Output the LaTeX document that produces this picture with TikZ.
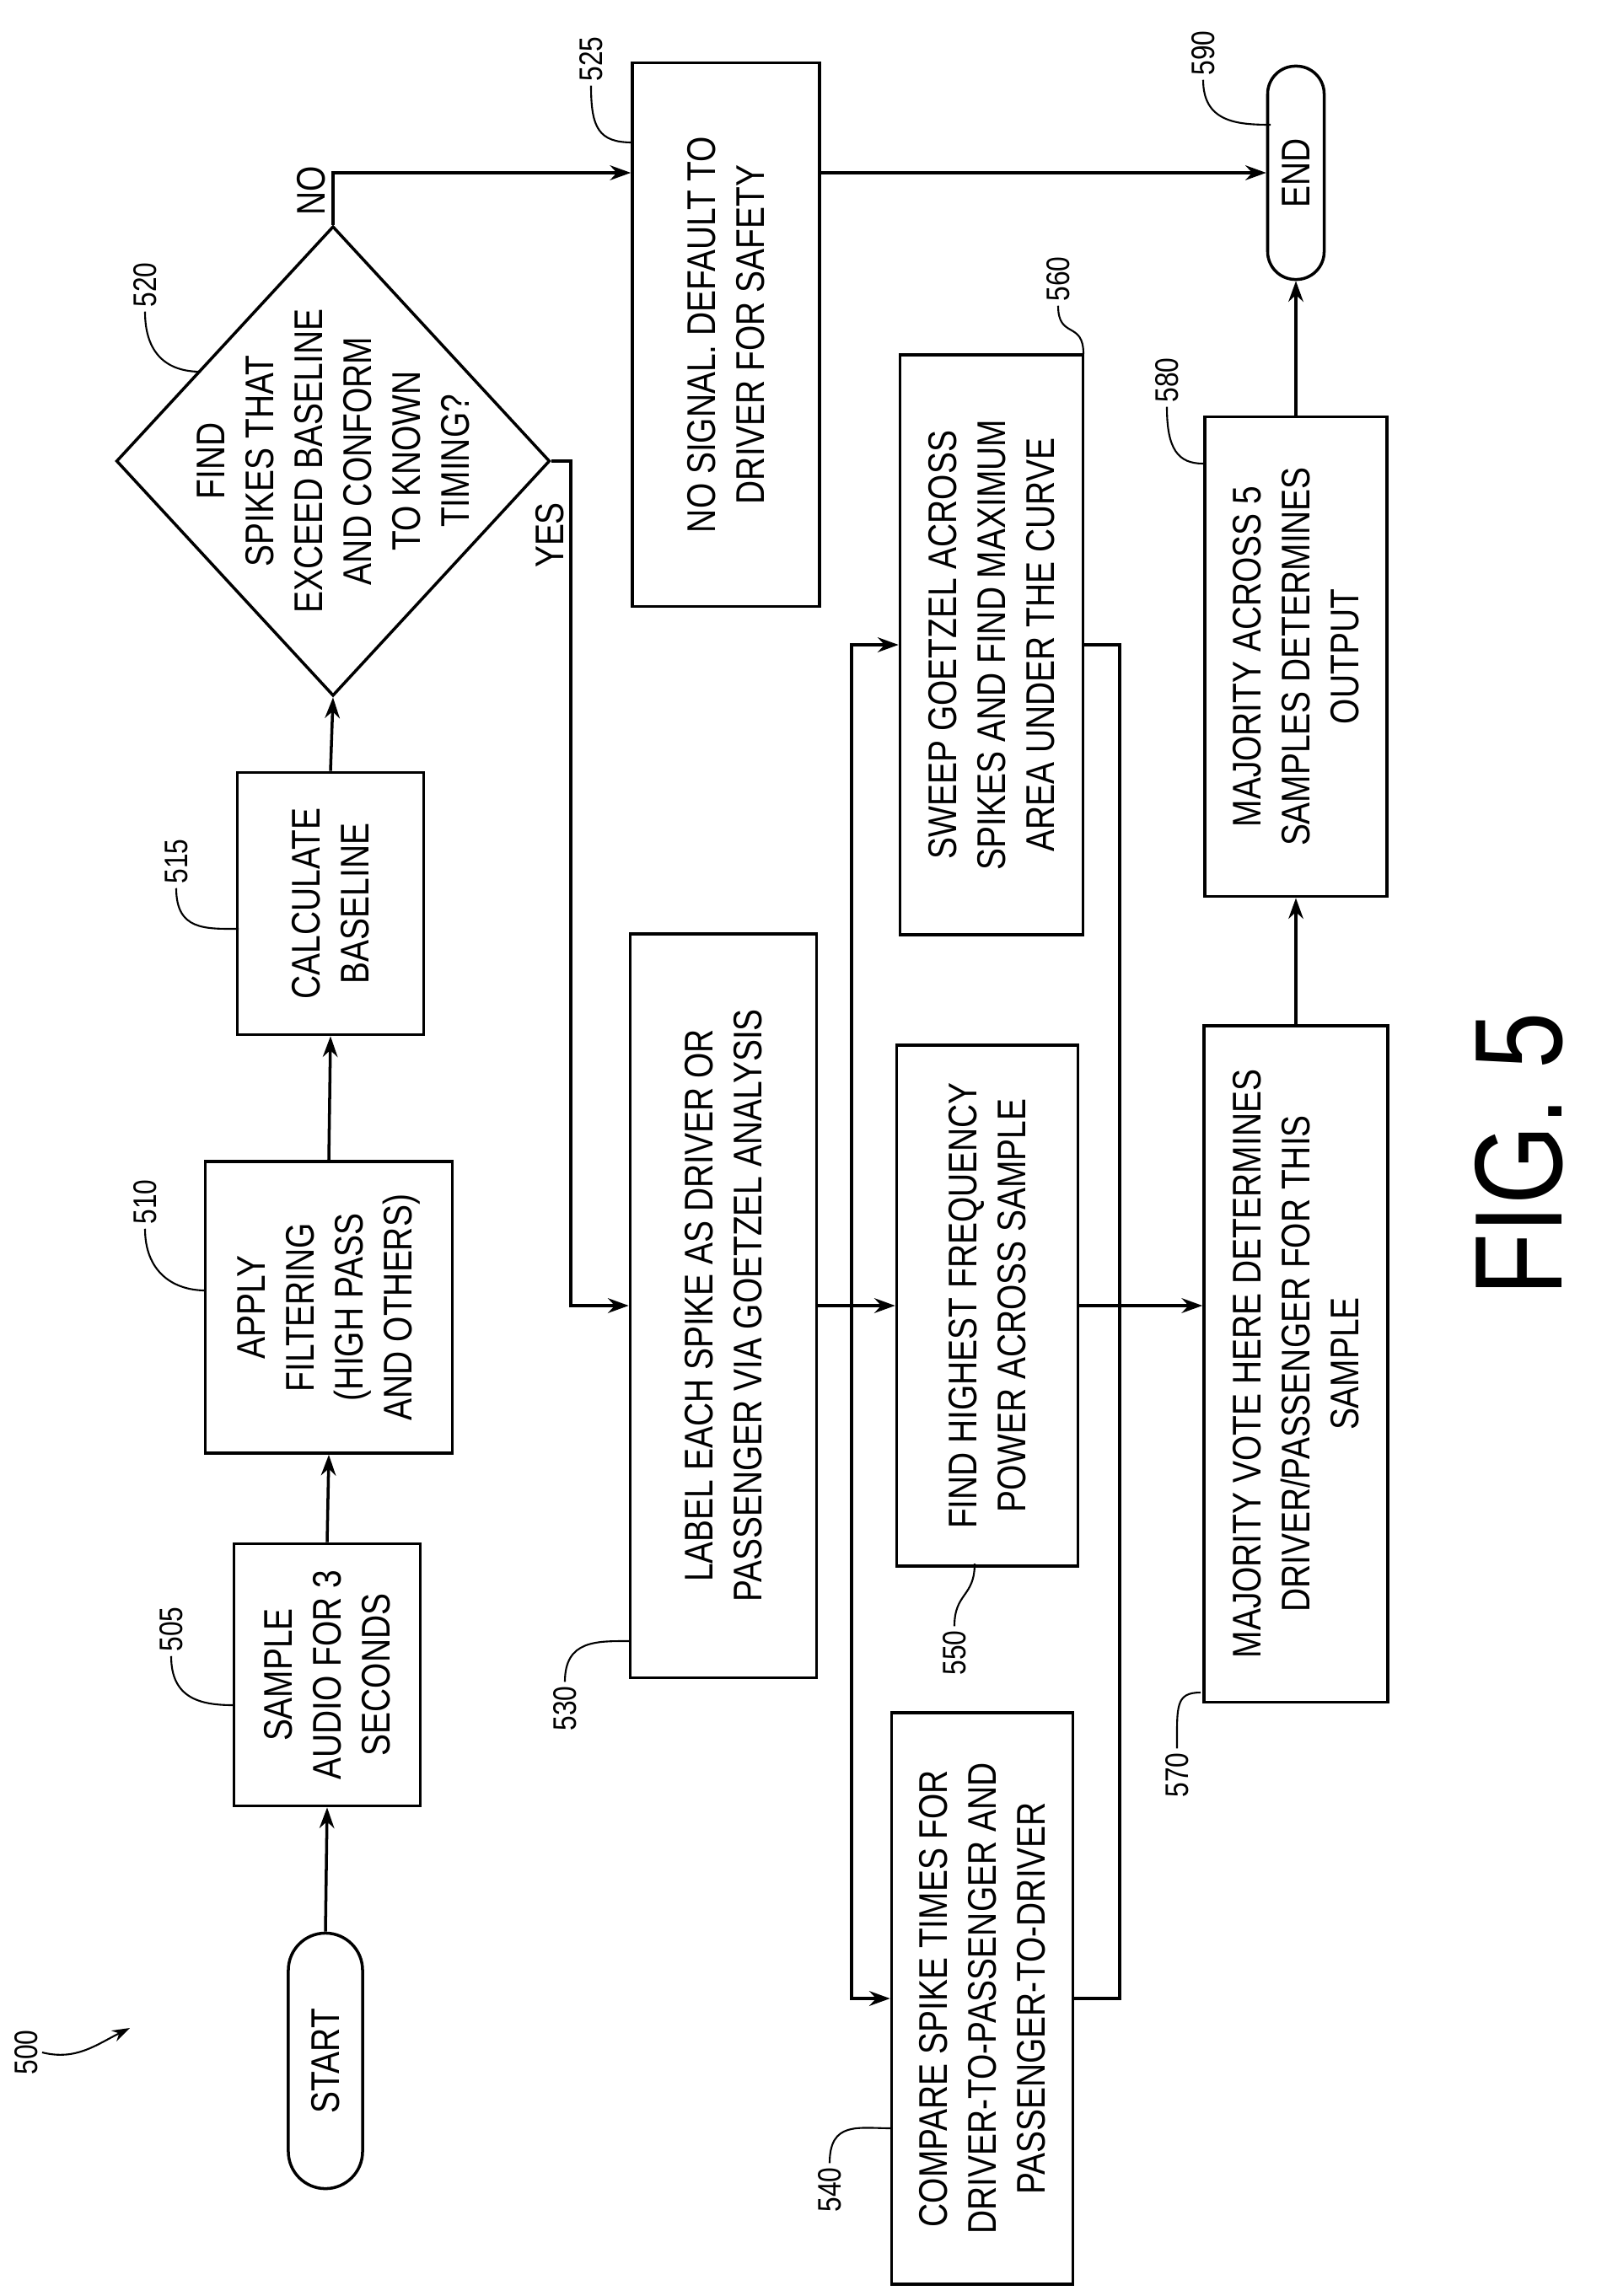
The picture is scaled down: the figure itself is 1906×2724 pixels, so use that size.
\documentclass[tikz,border=0pt]{standalone}
\usepackage{fontspec}
\setmainfont{Liberation Sans}[FakeStretch=0.82]
\usetikzlibrary{arrows.meta,shapes.geometric}

\begin{document}
\begin{tikzpicture}[x=0.01cm,y=-0.01cm,line width=1pt,
  box/.style={draw,rotate=90,align=center,inner sep=0pt,
    font=\fontsize{13.5}{16.5}\selectfont},
  term/.style={box,rounded corners=0.44cm},
  num/.style={rotate=90,inner sep=1pt,font=\fontsize{11}{11}\selectfont},
  arr/.style={-{Stealth[length=7pt,width=5pt]}},
  lead/.style={line width=0.6pt}]
\useasboundingbox (0,0) rectangle (1906,2724);

% main chain
\node[term,minimum width=3.03cm,minimum height=0.88cm] (start) at (386,2445) {START};
\node[box,minimum width=3.11cm,minimum height=2.21cm] (s505) at (388,1987) {SAMPLE\\AUDIO FOR 3\\SECONDS};
\node[box,minimum width=3.46cm,minimum height=2.93cm] (s510) at (390,1551) {APPLY\\FILTERING\\(HIGH PASS\\AND OTHERS)};
\node[box,minimum width=3.11cm,minimum height=2.21cm] (s515) at (392,1072) {CALCULATE\\BASELINE};
\node[draw,diamond,rotate=90,inner sep=0pt,minimum width=5.57cm,minimum height=5.14cm] (d520) at (395,547) {};
\node[rotate=90,align=center,font=\fontsize{13.5}{16.5}\selectfont] (t520) at (d520) {FIND\\SPIKES THAT\\EXCEED BASELINE\\AND CONFORM\\TO KNOWN\\TIMING?};
\node[box,minimum width=6.45cm,minimum height=2.22cm] (s525) at (861,397) {NO SIGNAL. DEFAULT TO\\DRIVER FOR SAFETY};
\node[term,minimum width=2.53cm,minimum height=0.67cm,rounded corners=0.33cm] (end) at (1537,205) {END};

% analysis boxes
\node[box,minimum width=8.82cm,minimum height=2.21cm] (s530) at (858,1549) {LABEL EACH SPIKE AS DRIVER OR\\PASSENGER VIA GOETZEL ANALYSIS};
\node[box,minimum width=6.78cm,minimum height=2.15cm] (s540) at (1165,2371) {COMPARE SPIKE TIMES FOR\\DRIVER-TO-PASSENGER AND\\PASSENGER-TO-DRIVER};
\node[box,minimum width=6.18cm,minimum height=2.15cm] (s550) at (1171,1549) {FIND HIGHEST FREQUENCY\\POWER ACROSS SAMPLE};
\node[box,minimum width=6.88cm,minimum height=2.17cm] (s560) at (1176,765) {SWEEP GOETZEL ACROSS\\SPIKES AND FIND MAXIMUM\\AREA UNDER THE CURVE};
\node[box,minimum width=8.02cm,minimum height=2.18cm] (s570) at (1537,1618) {MAJORITY VOTE HERE DETERMINES\\DRIVER/PASSENGER FOR THIS\\SAMPLE};
\node[box,minimum width=5.69cm,minimum height=2.16cm] (s580) at (1537,779) {MAJORITY ACROSS 5\\SAMPLES DETERMINES\\OUTPUT};

\coordinate (b1) at (1010,1549);
\coordinate (m1) at (1328,1549);

% connectors
\draw[arr] (start.east) -- (s505.west);
\draw[arr] (s505.east) -- (s510.west);
\draw[arr] (s510.east) -- (s515.west);
\draw[arr] (s515.east) -- (d520.west);
\draw[arr] (d520.east) |- (s525.north |- end.north);
\draw[arr] (s525.south |- end.north) -- (end.north);
\draw[arr] (d520.south) -- (677,547) |- (s530.north);
\draw[arr] (s530.south) -- (s550.north);
\draw[arr] (b1) |- (s560.north);
\draw[arr] (b1) |- (s540.north);
\draw (s560.south) -| (m1);
\draw (s540.south) -| (m1);
\draw[arr] (s550.south) -- (s570.north |- s550.south);
\draw[arr] (s570.east) -- (s580.west);
\draw[arr] (s580.east) -- (end.west);

\node[num,font=\fontsize{13.5}{13.5}\selectfont] (no) at (369,226) {NO};
\node[num,font=\fontsize{13.5}{13.5}\selectfont] (yes) at (652,635) {YES};

% reference numerals
\node[num] (l500) at (31,2435) {500};
\coordinate (p500) at (154,2406);
\draw[lead,-{Stealth[length=6pt,width=4pt]}] (l500.south) .. controls +(40,10) and +(-40,20) .. (p500);
\node[num] (l505) at (203,1933) {505};
\coordinate (c505) at (277,2023);
\draw[lead] (l505.west) .. controls +(0,50) and +(-40,0) .. (c505);
\node[num] (l510) at (172,1426) {510};
\coordinate (c510) at (244,1531);
\draw[lead] (l510.west) .. controls +(0,50) and +(-40,0) .. (c510);
\node[num] (l515) at (209,1022) {515};
\coordinate (c515) at (283,1102);
\draw[lead] (l515.west) .. controls +(0,50) and +(-40,0) .. (c515);
\node[num] (l520) at (172,338) {520};
\coordinate (c520) at (238,441);
\draw[lead] (l520.west) .. controls +(0,50) and +(-40,0) .. (c520);
\node[num] (l525) at (701,70) {525};
\coordinate (c525) at (750,169);
\draw[lead] (l525.west) .. controls +(0,50) and +(-40,0) .. (c525);
\node[num] (l530) at (670,2027) {530};
\coordinate (c530) at (748,1947);
\draw[lead] (l530.east) .. controls +(0,-50) and +(-40,0) .. (c530);
\node[num] (l540) at (984,2598) {540};
\coordinate (c540) at (1058,2525);
\draw[lead] (l540.east) .. controls +(0,-50) and +(-40,0) .. (c540);
\node[num] (l550) at (1132,1961) {550};
\coordinate (c550) at (1156,1855);
\draw[lead] (l550.east) .. controls +(0,-40) and +(0,40) .. (c550);
\node[num] (l560) at (1255,331) {560};
\coordinate (c560) at (1285,420);
\draw[lead] (l560.west) .. controls +(0,40) and +(0,-40) .. (c560);
\node[num] (l570) at (1396,2106) {570};
\coordinate (c570) at (1424,2008);
\draw[lead] (l570.east) .. controls +(0,-50) and +(-30,0) .. (c570);
\node[num] (l580) at (1384,451) {580};
\coordinate (c580) at (1427,550);
\draw[lead] (l580.west) .. controls +(0,50) and +(-30,0) .. (c580);
\node[num] (l590) at (1427,63) {590};
\coordinate (c590) at (1507,148);
\draw[lead] (l590.west) .. controls +(0,50) and +(-40,0) .. (c590);

\node[rotate=90,font=\fontsize{42}{42}\selectfont] (fig) at (1802,1369) {FIG. 5};
\end{tikzpicture}
\end{document}
